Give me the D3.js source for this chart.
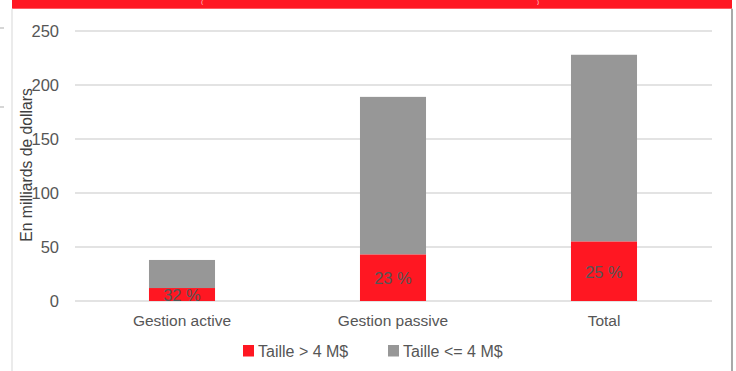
<!DOCTYPE html>
<html>
<head>
<meta charset="utf-8">
<script src="https://cdn.jsdelivr.net/npm/d3@7"></script>
<style>
  html, body { margin: 0; padding: 0; background: #ffffff; }
  svg { display: block; font-family: "Liberation Sans", Arial, sans-serif; }
</style>
</head>
<body>
<svg id="chart" width="736" height="371"></svg>
<script>
const categories = ["Gestion active", "Gestion passive", "Total"];
const largeValues = [12, 43, 55];      // Taille > 4 M$
const smallValues = [26, 146, 173];    // Taille <= 4 M$
const shareLabels = ["32 %", "23 %", "25 %"];
const seriesNames = ["Taille > 4 M$", "Taille <= 4 M$"];
const yTicks = [0, 50, 100, 150, 200, 250];
const yTitle = "En milliards de dollars";

const RED = "#ff1722", GRAY = "#979797", TXT = "#565656";

const svg = d3.select("#chart");

// frame
svg.append("rect").attr("x", 12).attr("y", 0).attr("width", 720).attr("height", 8.7).attr("fill", RED);
svg.append("text").attr("x", 202).attr("y", 4.2).attr("fill", "#fff").attr("font-size", 5).attr("text-anchor", "middle").text("(");
svg.append("text").attr("x", 538).attr("y", 4.2).attr("fill", "#fff").attr("font-size", 5).attr("text-anchor", "middle").text(")");
svg.append("line").attr("x1", 12).attr("x2", 12).attr("y1", 8.7).attr("y2", 371).attr("stroke", "#e4e4e4").attr("stroke-width", 1.5);
svg.append("line").attr("x1", 732).attr("x2", 732).attr("y1", 8.7).attr("y2", 371).attr("stroke", "#a9a9a9").attr("stroke-width", 2);
[28, 107].forEach(yy => svg.append("line").attr("x1", 0).attr("x2", 4).attr("y1", yy).attr("y2", yy).attr("stroke", "#c8c8c8").attr("stroke-width", 1.5));

const y = d3.scaleLinear().domain([0, 250]).range([301, 31]);
const x = d3.scaleBand().domain(categories).range([76.5, 709.5]).paddingInner(0.687).paddingOuter(0.3435);

// grid
svg.append("g").selectAll("line").data(yTicks).join("line")
  .attr("x1", 75).attr("x2", 712)
  .attr("y1", d => y(d)).attr("y2", d => y(d))
  .attr("stroke", "#dadada").attr("stroke-width", 1.5);

// y axis labels
const ya = svg.append("g").attr("transform", "translate(59,0)")
  .call(d3.axisLeft(y).tickValues(yTicks).tickSize(0).tickPadding(0));
ya.select(".domain").remove();
ya.selectAll("text").attr("font-size", 16.5).attr("fill", TXT).attr("font-family", "Liberation Sans, Arial, sans-serif");

// y title
svg.append("text").attr("transform", "translate(31.5,165) rotate(-90)")
  .attr("text-anchor", "middle").attr("font-size", 15.7).attr("fill", "#404040").text(yTitle);

// bars
const stacked = categories.map((c, i) => ({ c, a: largeValues[i], b: smallValues[i], lbl: shareLabels[i] }));
const bars = svg.append("g");
bars.selectAll("rect.s").data(stacked).join("rect").attr("class", "s")
  .attr("x", d => x(d.c)).attr("width", x.bandwidth())
  .attr("y", d => y(d.a + d.b)).attr("height", d => y(d.a) - y(d.a + d.b))
  .attr("fill", GRAY);
bars.selectAll("rect.l").data(stacked).join("rect").attr("class", "l")
  .attr("x", d => x(d.c)).attr("width", x.bandwidth())
  .attr("y", d => y(d.a)).attr("height", d => y(0) - y(d.a))
  .attr("fill", RED);
bars.selectAll("text").data(stacked).join("text")
  .attr("x", d => x(d.c) + x.bandwidth() / 2)
  .attr("y", d => (y(0) + y(d.a)) / 2 + 0.5)
  .attr("dominant-baseline", "central").attr("text-anchor", "middle")
  .attr("font-size", 16.5).attr("fill", TXT).text(d => d.lbl);

// x axis labels
const xa = svg.append("g").attr("transform", "translate(0,301)")
  .call(d3.axisBottom(x).tickSize(0).tickPadding(14));
xa.select(".domain").remove();
xa.selectAll("text").attr("font-size", 15.5).attr("fill", TXT).attr("font-family", "Liberation Sans, Arial, sans-serif");

// legend
const legX = [243, 388];
const leg = svg.append("g").selectAll("g").data(seriesNames).join("g")
  .attr("transform", (d, i) => `translate(${legX[i]},345)`);
leg.append("rect").attr("width", 11).attr("height", 11.5).attr("fill", (d, i) => i === 0 ? RED : GRAY);
leg.append("text").attr("x", 15).attr("y", 12.3).attr("font-size", 16).attr("fill", TXT).text(d => d);
</script>
</body>
</html>
